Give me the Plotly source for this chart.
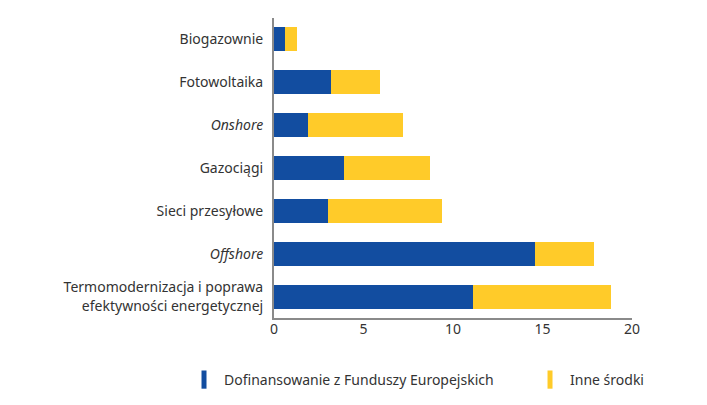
import plotly.graph_objects as go

categories = ["Biogazownie", "Fotowoltaika", "Onshore", "Gazociągi", "Sieci przesyłowe",
              "Offshore", "Termomodernizacja i poprawa efektywności energetycznej"]
tick_labels = ["Biogazownie", "Fotowoltaika", "<i>Onshore</i>", "Gazociągi", "Sieci przesyłowe",
               "<i>Offshore</i>", "Termomodernizacja i poprawa<br>efektywności energetycznej"]
eu_funds = [0.6, 3.2, 1.9, 3.9, 3.0, 14.6, 11.1]
other_totals = [1.3, 5.9, 7.2, 8.7, 9.4, 17.9, 18.8]
other_funds = [round(t - e, 2) for t, e in zip(other_totals, eu_funds)]
series_names = ["Dofinansowanie z Funduszy Europejskich", "Inne środki"]
colors = ["#124DA0", "#FFCB29"]
x_ticks = [0, 5, 10, 15, 20]

fig = go.Figure()
for i, (name, vals, col) in enumerate(zip(series_names, [eu_funds, other_funds], colors)):
    fig.add_trace(go.Bar(y=categories, x=vals, orientation="h", name=name,
                         marker=dict(color=col, line=dict(width=0)), showlegend=False))
    fig.add_trace(go.Scatter(x=[None], y=[None], mode="markers", name=name,
                             legend="legend" if i == 0 else "legend2",
                             marker=dict(symbol="line-ns", size=13, color=col,
                                         line=dict(color=col, width=5))))

legend_common = dict(orientation="h", xref="container", yref="container",
                     xanchor="left", yanchor="middle", y=0.063,
                     font=dict(size=14, color="#333333"), itemwidth=30)

fig.update_layout(
    barmode="stack",
    bargap=0.44,
    width=699, height=397,
    margin=dict(l=266, r=75, t=10, b=87, autoexpand=False),
    paper_bgcolor="white", plot_bgcolor="white",
    font=dict(family="Noto Sans", size=14, color="#333333"),
    legend=dict(x=0.2518, **legend_common),
    legend2=dict(x=0.7468, **legend_common),
)
fig.update_xaxes(range=[0, 20], tickvals=x_ticks, showgrid=False, zeroline=False,
                 showline=True, linecolor="#8a8a8a", linewidth=2, ticks="",
                 tickfont=dict(size=14), automargin=False, ticklabelstandoff=-3)
fig.update_yaxes(categoryorder="array", categoryarray=categories, autorange="reversed",
                 tickvals=categories, ticktext=tick_labels, showgrid=False, zeroline=False,
                 showline=True, linecolor="#8a8a8a", linewidth=2,
                 ticks="outside", ticklen=6, tickcolor="rgba(0,0,0,0)",
                 tickfont=dict(size=14), automargin=False)

fig.write_html("out.html")
